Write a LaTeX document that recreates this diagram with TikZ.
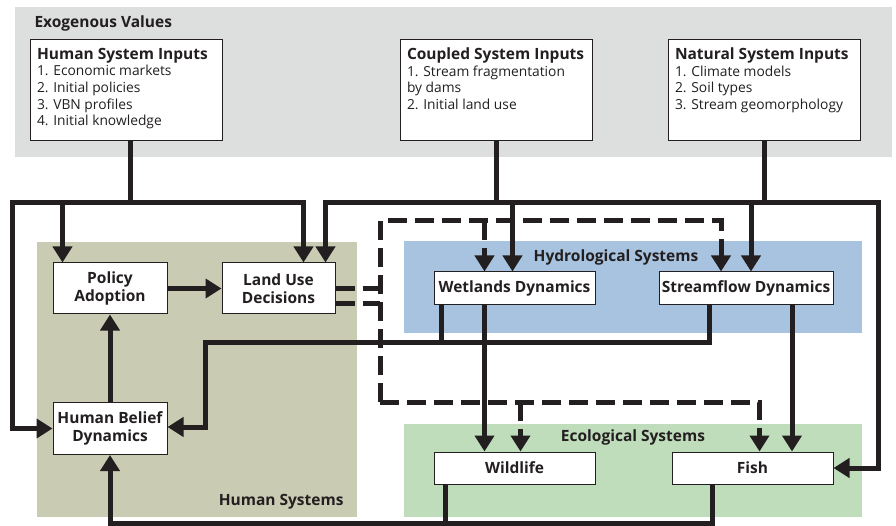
\documentclass[tikz,border=0pt]{standalone}
\usepackage{fontspec}
\setmainfont{Open Sans}
\usepackage{tikz}
\usetikzlibrary{arrows.meta,positioning}

\definecolor{ink}{RGB}{35,31,32}
\definecolor{exoback}{RGB}{221,222,222}
\definecolor{humback}{RGB}{201,203,179}
\definecolor{hydback}{RGB}{167,195,223}
\definecolor{ecoback}{RGB}{191,220,187}

\begin{document}
\begin{tikzpicture}[x=1pt,y=-1pt,line join=miter,
  flow line/.style={draw=ink,line width=5pt,-{Triangle[length=16pt,width=19pt]}},
  plain line/.style={draw=ink,line width=5pt},
  dash line/.style={draw=ink,line width=5pt,dash pattern=on 19pt off 8pt},
  dash flow/.style={dash line,-{Triangle[length=16pt,width=19pt]}},
  sys node/.style={draw=ink,line width=1pt,fill=white,text=ink,inner sep=0pt,align=center,font=\bfseries\fontsize{15.5}{18}\selectfont},
  input node/.style={draw=ink,line width=1pt,fill=white,text=ink,inner sep=0pt,minimum width=192pt,minimum height=101pt},
  area label/.style={text=ink,font=\bfseries\fontsize{15.5}{18}\selectfont}]

	\useasboundingbox (0,0) rectangle (896,526);

	% backgrounds
	\fill[exoback] (15,7) rectangle (892,157);
	\fill[humback] (37,242) rectangle (357,517);
	\fill[hydback] (404,241) rectangle (862,333);
	\fill[ecoback] (404,424) rectangle (862,517);

	\node[area label,anchor=base west] (exo) at (31,28) {Exogenous Values};
	\node[area label,anchor=east] (hum) at (347,502) {Human Systems};
	\node[area label] (hyd) at (616,257) {Hydrological Systems};
	\node[area label] (eco) at (633,437) {Ecological Systems};

	% exogenous inputs
	\node[input node] (hsi) at (126,90.5) {\parbox[c][85pt][t]{178pt}{\fontsize{13.8}{16.6}\selectfont
		{\bfseries\fontsize{15.5}{18}\selectfont Human System Inputs}\\
		1. Economic markets\\
		2. Initial policies\\
		3. VBN profiles\\
		4. Initial knowledge}};
	\node[input node] (csi) at (496,90.5) {\parbox[c][85pt][t]{178pt}{\fontsize{13.8}{16.6}\selectfont
		{\bfseries\fontsize{15.5}{18}\selectfont Coupled System Inputs}\\
		1. Stream fragmentation\\
		by dams\\
		2. Initial land use}};
	\node[input node] (nsi) at (764,90.5) {\parbox[c][85pt][t]{178pt}{\fontsize{13.8}{16.6}\selectfont
		{\bfseries\fontsize{15.5}{18}\selectfont Natural System Inputs}\\
		1. Climate models\\
		2. Soil types\\
		3. Stream geomorphology}};

	% system nodes
	\node[sys node,minimum width=114pt,minimum height=51pt] (pad) at (110,288.5) {Policy\\Adoption};
	\node[sys node,minimum width=113pt,minimum height=51pt,node distance=168.5pt] (lud) [right of=pad] {Land Use\\Decisions};
	\node[sys node,minimum width=114pt,minimum height=52pt,node distance=140pt] (hbd) [below of=pad] {Human Belief\\Dynamics};
	\node[sys node,minimum width=161pt,minimum height=33pt] (wet) at (514.5,288.5) {Wetlands Dynamics};
	\node[sys node,minimum width=174pt,minimum height=33pt,node distance=231.5pt] (sfd) [right of=wet] {Streamflow Dynamics};
	\node[sys node,minimum width=161pt,minimum height=32pt,node distance=179.5pt] (wild) [below of=wet] {Wildlife};
	\node[sys node,minimum width=161pt,minimum height=32pt,node distance=238pt] (fish) [right of=wild] {Fish};

	\coordinate (hjoin) at (130,203);
	\coordinate (lcorner) at (12,203);
	\coordinate (cjoin) at (496,203);
	\coordinate (njoin) at (764,203);
	\coordinate (rcorner) at (878,203);
	\coordinate (fbc) at (205,342);
	\coordinate (dtl) at (380,221);
	\coordinate (dbl) at (380,402);

	% human inputs
	\draw[plain line] ([xshift=4pt]hsi.south) -- (hjoin);
	\draw[flow line] (hjoin) -- (lcorner) |- (hbd.west);
	\draw[flow line] (hjoin) -| ([xshift=10pt]pad.north west);
	\draw[flow line] (hjoin) -| ([xshift=-32pt]lud.north east);

	% coupled and natural inputs
	\draw[plain line] (csi.south) -- (cjoin);
	\draw[plain line] (nsi.south) -- (njoin);
	\draw[flow line] (cjoin) -| ([xshift=-10pt]lud.north east);
	\draw[flow line] (cjoin) -- (rcorner) |- (fish.east);
	\draw[flow line] ([xshift=-2pt]wet.north |- cjoin) -- ([xshift=-2pt]wet.north);
	\draw[flow line] ([xshift=5pt]sfd.north |- cjoin) -- ([xshift=5pt]sfd.north);

	% human system
	\draw[flow line] (pad) -- (lud);
	\draw[flow line] (hbd) -- (pad);

	% land use influence
	\draw[dash line] (lud.east) -- (lud.east -| dtl);
	\draw[dash line] ([yshift=-15pt]lud.east) -- ([yshift=-15pt]lud.east -| dtl);
	\draw[dash flow] (dbl) -- (dtl) -| ([xshift=-25pt]sfd.north);
	\draw[dash flow] ([xshift=-30pt]wet.north |- dtl) -- ([xshift=-30pt]wet.north);
	\draw[dash flow] (dbl) -| ([xshift=7pt]fish.north);
	\draw[dash flow] ([xshift=6pt]wild.north |- dbl) -- ([xshift=6pt]wild.north);

	% feedbacks
	\draw[flow line] ([xshift=-37pt]sfd.south) |- (fbc) |- ([yshift=1.5pt]hbd.east);
	\draw[plain line] ([xshift=8pt]wet.south west) -- ([xshift=8pt]wet.south west |- fbc);
	\draw[flow line] ([xshift=-30pt]wet.south) -- ([xshift=-30pt]wild.north);
	\draw[flow line] ([xshift=46pt]sfd.south) -- ([xshift=46pt]sfd.south |- fish.north);
	\draw[flow line] ([xshift=-40pt]fish.south) -- ++(0,39) -| (hbd.south);
	\draw[plain line] ([xshift=12pt]wild.south west) -- ++(0,39);

\end{tikzpicture}
\end{document}
